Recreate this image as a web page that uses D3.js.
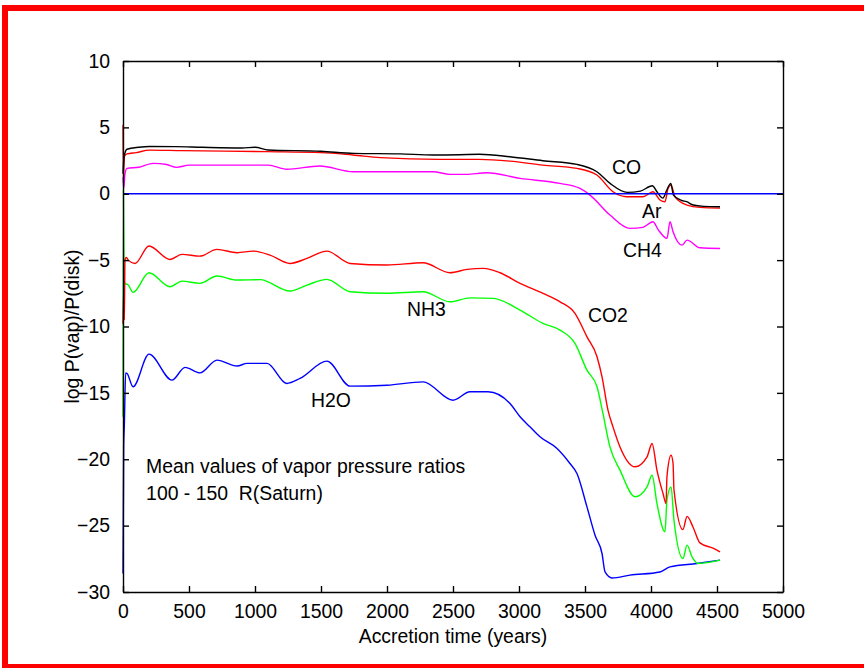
<!DOCTYPE html>
<html lang="en">
<head>
	<meta charset="utf-8">
	<title> Vapor pressure ratios </title>
	<script src="https://d3js.org/d3.v7.min.js"></script>
	<style type="text/css">
		body{ margin:0; background:#fff; }
		svg text{ font-family: "Liberation Sans", Arial, sans-serif; fill:#000; }
		.ann{ white-space: pre; }
	</style>
</head>
<body>
	<svg id="chart" width="864" height="668"></svg>

	<script type="text/javascript">

	// ---- data: [time (years), log P(vap)/P(disk)]
	var CO = [[0,1.5],[8,2.8],[30,3.35],[120,3.5],[200,3.56],[400,3.55],[600,3.5],[900,3.45],[1000,3.5],[1100,3.3],[1500,3.2],[1750,3.04],[2100,3.0],[2350,2.92],[2550,2.94],[2700,2.97],[2930,2.79],[3180,2.49],[3440,2.21],[3590,1.66],[3690,0.78],[3820,0.1],[3920,0.2],[4010,0.6],[4045,0.15],[4090,-0.33],[4120,0.28],[4150,0.78],[4170,-0.1],[4230,-0.5],[4270,-0.6],[4320,-0.85],[4400,-0.95],[4523,-0.98]]

	var Ar = [[0,5.2],[3,1.2],[10,2.8],[30,3.0],[100,3.1],[200,3.29],[440,3.25],[1090,3.17],[1500,3.1],[1740,2.92],[1950,2.72],[2400,2.59],[2700,2.59],[2930,2.46],[3180,2.16],[3440,1.91],[3590,1.41],[3712,0.15],[3818,-0.23],[3939,-0.23],[4015,0.15],[4068,-0.47],[4106,-0.6],[4129,0.4],[4152,0.65],[4182,-0.23],[4273,-0.85],[4371,-1.03],[4523,-1.08]]

	var CH4 = [[0,1.25],[5,0.4],[15,1.5],[30,1.91],[120,2.0],[230,2.29],[330,2.2],[406,1.99],[500,2.16],[1100,2.16],[1240,1.84],[1490,2.09],[1742,1.66],[2348,1.66],[2477,1.46],[2600,1.46],[2755,1.58],[3008,1.16],[3311,0.78],[3462,0.4],[3538,-0.1],[3689,-1.6],[3841,-2.61],[3939,-2.53],[4015,-2.11],[4053,-2.68],[4121,-3.36],[4144,-2.11],[4167,-2.86],[4235,-3.87],[4273,-3.49],[4371,-4.07],[4523,-4.12]]

	var CO2 = [[0,-9.8],[5,-7.3],[10,-9.5],[15,-5.0],[25,-4.8],[40,-5.0],[91,-5.25],[197,-3.94],[356,-4.95],[447,-4.57],[583,-4.7],[712,-4.19],[864,-4.44],[985,-4.32],[1114,-4.62],[1265,-5.25],[1394,-4.87],[1545,-4.32],[1720,-5.25],[2000,-5.37],[2273,-5.2],[2477,-5.95],[2606,-5.7],[2730,-5.62],[2856,-5.95],[3008,-6.75],[3182,-7.5],[3311,-8.14],[3424,-9.01],[3515,-10.78],[3591,-12.28],[3629,-13.79],[3674,-16.3],[3712,-17.56],[3765,-19.07],[3879,-20.57],[3970,-19.82],[4008,-18.81],[4045,-20.82],[4091,-22.58],[4114,-23.33],[4121,-21.3],[4152,-19.7],[4167,-20.3],[4174,-22.3],[4242,-25.3],[4273,-24.3],[4318,-25.1],[4371,-26.3],[4470,-26.7],[4523,-26.98]]

	var NH3 = [[0,-16.8],[3,0.3],[8,-6.5],[15,-6.75],[40,-6.88],[76,-7.43],[197,-5.95],[356,-7.0],[447,-6.58],[583,-6.75],[712,-6.2],[864,-6.5],[1038,-6.47],[1265,-7.33],[1394,-6.88],[1545,-6.45],[1720,-7.38],[2000,-7.5],[2273,-7.38],[2477,-8.14],[2629,-7.84],[2806,-7.88],[3008,-8.76],[3182,-9.77],[3311,-10.27],[3424,-11.27],[3515,-13.29],[3591,-14.54],[3636,-16.55],[3689,-19.07],[3765,-20.82],[3879,-22.83],[3970,-22.08],[4008,-21.2],[4045,-23.33],[4106,-25.47],[4121,-23.08],[4152,-22.08],[4174,-24.59],[4242,-27.48],[4273,-26.47],[4311,-27.35],[4356,-27.85],[4523,-27.6]]

	var H2O = [[0,-28.6],[5,-19],[10,-17.5],[20,-13.5],[30,-13.53],[76,-14.54],[197,-12.08],[371,-14.04],[470,-13.08],[583,-13.49],[712,-12.53],[864,-12.98],[939,-12.78],[1091,-12.78],[1240,-14.29],[1341,-13.91],[1545,-12.61],[1720,-14.49],[2000,-14.42],[2273,-14.17],[2500,-15.55],[2629,-14.92],[2765,-14.92],[2932,-15.8],[3008,-16.8],[3083,-17.56],[3159,-18.31],[3288,-19.19],[3386,-20.32],[3439,-21.07],[3515,-23.59],[3576,-25.72],[3629,-27.1],[3652,-28.49],[3705,-28.94],[3841,-28.73],[4068,-28.49],[4144,-28.11],[4348,-27.85],[4523,-27.6]]

	// series drawn in this order, colours as in the plot
	var seriesNames = ["H2O", "NH3", "CO2", "CH4", "Ar", "CO"]
	var seriesData = [H2O, NH3, CO2, CH4, Ar, CO]
	var seriesColors = ["#0000ff", "#00ff00", "#ff0000", "#ff00ff", "#ff0000", "#000000"]

	// curve labels and where they sit (data units, text baseline-left)
	var labelText = ["CO", "Ar", "CH4", "CO2", "NH3", "H2O"]
	var labelAt = [[3705,1.48], [3932,-1.83], [3788,-4.77], [3523,-9.67], [2152,-9.22], [1424,-16.08]]

	var noteText = ["Mean values of vapor pressure ratios", "100 - 150  R(Saturn)"]
	var noteAt = [[175,-21.0], [175,-23.05]]

	var xTicks = d3.range(0, 5001, 500)
	var yTicks = d3.range(-30, 11, 5)

	// layout (plot box in pixels)
	var box = {l: 123, r: 783, t: 61, b: 592}
	var fontSize = 19.4

	var svg = d3.select("#chart")

	// red frame round the figure (runs off the right edge)
	svg.append("rect")
		.attr("x", 5).attr("y", 8)
		.attr("width", 900).attr("height", 659)
		.attr("fill", "none")
		.attr("stroke", "#ff0000")
		.attr("stroke-width", 6)

	var x = d3.scaleLinear().domain([0, 5000]).range([box.l, box.r])
	var y = d3.scaleLinear().domain([-30, 10]).range([box.b, box.t])

	var line = d3.line()
		.curve(d3.curveMonotoneX)
		.x(d => x(d[0]))
		.y(d => y(d[1]))

	// data lines
	svg.append("g")
		.attr("fill", "none")
		.selectAll("path")
		.data(seriesData)
		.join("path")
		.attr("stroke", (d, i) => seriesColors[i])
		.attr("stroke-width", 1.4)
		.attr("stroke-linejoin", "round")
		.attr("d", line)

	// blue zero line across the whole axis
	svg.append("line")
		.attr("x1", x(0)).attr("x2", x(5000))
		.attr("y1", y(0)).attr("y2", y(0))
		.attr("stroke", "#0000ff")
		.attr("stroke-width", 1.4)

	// axes, matlab style: box with inward ticks on every side
	var tickLen = 6
	var fmt = d3.format("d")
	svg.append("g")
		.attr("transform", "translate(0," + box.b + ")")
		.call(d3.axisBottom(x).tickValues(xTicks).tickSizeInner(-tickLen).tickSizeOuter(0).tickPadding(12).tickFormat(fmt))
	svg.append("g")
		.attr("transform", "translate(0," + box.t + ")")
		.call(d3.axisTop(x).tickValues(xTicks).tickSizeInner(-tickLen).tickSizeOuter(0).tickFormat(""))
	svg.append("g")
		.attr("transform", "translate(" + box.l + ",0)")
		.call(d3.axisLeft(y).tickValues(yTicks).tickSizeInner(-tickLen).tickSizeOuter(0).tickPadding(13).tickFormat(fmt))
	svg.append("g")
		.attr("transform", "translate(" + box.r + ",0)")
		.call(d3.axisRight(y).tickValues(yTicks).tickSizeInner(-tickLen).tickSizeOuter(0).tickFormat(""))

	svg.selectAll(".domain, .tick line")
		.attr("stroke", "#000")
		.attr("stroke-width", 1.4)
	svg.selectAll(".tick text")
		.attr("font-size", fontSize)
		.attr("font-family", null)

	// axis titles
	svg.append("text")
		.attr("x", (box.l + box.r) / 2)
		.attr("y", 643)
		.attr("text-anchor", "middle")
		.attr("font-size", fontSize)
		.text("Accretion time (years)")

	svg.append("text")
		.attr("transform", "translate(79," + (box.t + box.b) / 2 + ") rotate(-90)")
		.attr("text-anchor", "middle")
		.attr("font-size", fontSize)
		.text("log P(vap)/P(disk)")

	// curve names
	svg.append("g")
		.selectAll("text")
		.data(labelText)
		.join("text")
		.attr("x", (d, i) => x(labelAt[i][0]))
		.attr("y", (d, i) => y(labelAt[i][1]))
		.attr("font-size", fontSize)
		.text(d => d)

	// note
	svg.append("g")
		.selectAll("text")
		.data(noteText)
		.join("text")
		.attr("class", "ann")
		.attr("x", (d, i) => x(noteAt[i][0]))
		.attr("y", (d, i) => y(noteAt[i][1]))
		.attr("font-size", fontSize)
		.text(d => d)

	</script>
</body>
</html>
